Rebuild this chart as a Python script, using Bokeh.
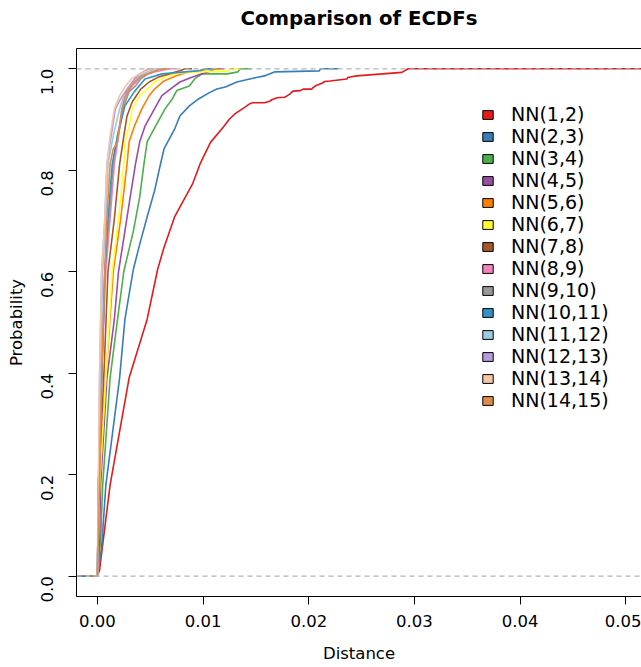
import math
from bokeh.plotting import figure
from bokeh.models import (Range1d, FixedTicker, PrintfTickFormatter, Span, Legend,
                          LegendItem, LinearAxis)
from bokeh.embed import file_html
from bokeh.resources import INLINE

FONT = "DejaVu Sans"

labels = ["NN(1,2)", "NN(2,3)", "NN(3,4)", "NN(4,5)", "NN(5,6)", "NN(6,7)", "NN(7,8)",
          "NN(8,9)", "NN(9,10)", "NN(10,11)", "NN(11,12)", "NN(12,13)", "NN(13,14)", "NN(14,15)"]
colors = ["#E41A1C", "#377EB8", "#4DAF4A", "#984EA3", "#FF7F00", "#FFFF33", "#A65628",
          "#F781BF", "#999999", "#3591C5", "#9ECAE1", "#B49AE0", "#F4C6A6", "#E08A48"]

# distance / cumulative probability
d_1_2 = [0, 0.0002, 0.0012, 0.0030, 0.0047, 0.0057, 0.0063, 0.0073, 0.0090, 0.0097, 0.0107,
         0.0119, 0.0125, 0.0130, 0.0140, 0.0144, 0.0147, 0.0158, 0.0163, 0.0165, 0.0170, 0.0177,
         0.0179, 0.0182, 0.0185, 0.0192, 0.0195, 0.0203, 0.0204, 0.0207, 0.0213, 0.0215, 0.0220,
         0.0236, 0.0237, 0.0245, 0.0270, 0.0288, 0.0294]
p_1_2 = [0, 0.012, 0.180, 0.391, 0.506, 0.605, 0.648, 0.708, 0.773, 0.812, 0.855,
         0.885, 0.901, 0.911, 0.925, 0.931, 0.933, 0.933, 0.936, 0.939, 0.943, 0.944,
         0.946, 0.950, 0.956, 0.957, 0.960, 0.960, 0.963, 0.967, 0.972, 0.975, 0.976,
         0.980, 0.983, 0.986, 0.990, 0.993, 1.0]

d_2_3 = [0, 0.0004, 0.0008, 0.0021, 0.0026, 0.0034, 0.0040, 0.0047, 0.0054, 0.0059, 0.0063,
         0.0073, 0.0078, 0.0087, 0.0096, 0.0106, 0.0113, 0.0121, 0.0132, 0.0144, 0.0158,
         0.0168, 0.0210, 0.0211]
p_2_3 = [0, 0.057, 0.180, 0.391, 0.506, 0.605, 0.654, 0.708, 0.759, 0.806, 0.842,
         0.881, 0.907, 0.927, 0.941, 0.953, 0.960, 0.964, 0.974, 0.980, 0.986,
         0.994, 0.996, 1.0]

d_3_4 = [0, 0.0003, 0.0005, 0.0012, 0.0019, 0.0025, 0.0034, 0.0040, 0.0044, 0.0047, 0.0055,
         0.0064, 0.0071, 0.0075, 0.0087, 0.0092, 0.0099, 0.0123, 0.0133, 0.0135]
p_3_4 = [0, 0.071, 0.180, 0.391, 0.506, 0.601, 0.680, 0.747, 0.812, 0.856, 0.887,
         0.921, 0.941, 0.957, 0.966, 0.980, 0.990, 0.990, 0.994, 1.0]

d_4_5 = [0, 0.0002, 0.0003, 0.0009, 0.0016, 0.0020, 0.0026, 0.0031, 0.0036, 0.0040, 0.0045,
         0.0054, 0.0061, 0.0069, 0.0078, 0.0090, 0.0099, 0.0108, 0.0111]
p_4_5 = [0, 0.071, 0.180, 0.391, 0.506, 0.601, 0.680, 0.747, 0.812, 0.856, 0.887,
         0.921, 0.947, 0.960, 0.974, 0.984, 0.990, 0.996, 1.0]

d_5_6 = [0, 0.0002, 0.0008, 0.0015, 0.0022, 0.0028, 0.0030, 0.0035, 0.0042, 0.0049, 0.0054,
         0.0063, 0.0074, 0.0087, 0.0102, 0.0107]
p_5_6 = [0, 0.180, 0.391, 0.601, 0.704, 0.812, 0.856, 0.887, 0.921, 0.947, 0.960,
         0.976, 0.986, 0.994, 0.998, 1.0]

d_6_7 = [0, 0.0002, 0.0008, 0.0014, 0.0020, 0.0025, 0.0026, 0.0030, 0.0033, 0.0040, 0.0047,
         0.0054, 0.0066, 0.0077, 0.0097, 0.0124, 0.0125]
p_6_7 = [0, 0.180, 0.391, 0.601, 0.704, 0.812, 0.856, 0.887, 0.921, 0.947, 0.960,
         0.974, 0.986, 0.992, 0.994, 0.996, 1.0]

d_7_8 = [0, 0.0001, 0.0006, 0.0010, 0.0016, 0.0021, 0.0025, 0.0028, 0.0033, 0.0041, 0.0049,
         0.0058, 0.0068, 0.0078, 0.0083]
p_7_8 = [0, 0.180, 0.391, 0.601, 0.704, 0.812, 0.868, 0.907, 0.935, 0.960, 0.974,
         0.984, 0.990, 0.996, 1.0]

d_8_9 = [0, 0.0001, 0.0004, 0.0008, 0.0012, 0.0016, 0.0020, 0.0023, 0.0025, 0.0033, 0.0042,
         0.0055, 0.0064, 0.0069]
p_8_9 = [0, 0.180, 0.391, 0.601, 0.704, 0.812, 0.868, 0.907, 0.941, 0.966, 0.986,
         0.994, 0.998, 1.0]

d_9_10 = [0, 0.0001, 0.0004, 0.0007, 0.0011, 0.0015, 0.0019, 0.0024, 0.0030, 0.0036, 0.0041,
          0.0048, 0.0055, 0.0059]
p_9_10 = [0, 0.180, 0.391, 0.601, 0.704, 0.812, 0.868, 0.921, 0.955, 0.966, 0.980,
          0.990, 0.996, 1.0]

d_10_11 = [0, 0.0001, 0.0004, 0.0007, 0.0010, 0.0014, 0.0019, 0.0026, 0.0035, 0.0045, 0.0061,
           0.0083, 0.0097, 0.0102]
p_10_11 = [0, 0.180, 0.391, 0.601, 0.704, 0.812, 0.868, 0.927, 0.955, 0.980, 0.990,
           0.994, 0.996, 1.0]

d_11_12 = [0, 0.0001, 0.0003, 0.0005, 0.0008, 0.0010, 0.0015, 0.0021, 0.0025, 0.0033, 0.0041,
           0.0050, 0.0055]
p_11_12 = [0, 0.180, 0.391, 0.601, 0.704, 0.812, 0.868, 0.921, 0.947, 0.974, 0.988,
           0.996, 1.0]

d_12_13 = [0, 0.0001, 0.0002, 0.0004, 0.0007, 0.0009, 0.0013, 0.0017, 0.0022, 0.0028, 0.0035,
           0.0040, 0.0045, 0.0048]
p_12_13 = [0, 0.180, 0.391, 0.601, 0.704, 0.812, 0.868, 0.921, 0.941, 0.960, 0.980,
           0.990, 0.996, 1.0]

d_13_14 = [0, 0.0001, 0.0002, 0.0004, 0.0007, 0.0009, 0.0012, 0.0016, 0.0021, 0.0026, 0.0032,
           0.0038, 0.0045, 0.0050]
p_13_14 = [0, 0.180, 0.391, 0.601, 0.704, 0.812, 0.868, 0.921, 0.947, 0.964, 0.980,
           0.988, 0.994, 1.0]

d_14_15 = [0, 0.0002, 0.0004, 0.0007, 0.0009, 0.0012, 0.0015, 0.0019, 0.0021, 0.0023, 0.0028,
           0.0035, 0.0042, 0.0052, 0.0059, 0.0064]
p_14_15 = [0, 0.180, 0.391, 0.601, 0.704, 0.812, 0.842, 0.856, 0.887, 0.921, 0.955,
           0.974, 0.986, 0.994, 0.998, 1.0]

distances = [d_1_2, d_2_3, d_3_4, d_4_5, d_5_6, d_6_7, d_7_8, d_8_9, d_9_10, d_10_11,
             d_11_12, d_12_13, d_13_14, d_14_15]
probs = [p_1_2, p_2_3, p_3_4, p_4_5, p_5_6, p_6_7, p_7_8, p_8_9, p_9_10, p_10_11,
         p_11_12, p_12_13, p_13_14, p_14_15]

x_ticks = [0.00, 0.01, 0.02, 0.03, 0.04, 0.05]
y_ticks = [0.0, 0.2, 0.4, 0.6, 0.8, 1.0]
x_lim = (0.0, 0.0495)          # xlim of the first (reference) ECDF
x_lo = x_lim[0] - 0.04 * (x_lim[1] - x_lim[0])
x_hi = x_lim[1] + 0.04 * (x_lim[1] - x_lim[0])

p = figure(width=641, height=667,
           x_range=Range1d(x_lo, x_hi), y_range=Range1d(-0.04, 1.04),
           output_backend="svg", toolbar_location=None,
           min_border_left=76, min_border_right=0, min_border_top=48, min_border_bottom=71,
           x_axis_label="Distance", y_axis_label="Probability")

p.xgrid.visible = False
p.ygrid.visible = False
p.outline_line_color = None
p.background_fill_color = "white"
p.border_fill_color = "white"

# ECDF curves (each extended horizontally at 0 and 1 like R's stepfun plot)
for i, (d, pr, col) in enumerate(zip(distances, probs, colors)):
    if i == 0:
        dr = x_lim[1] - x_lim[0]
    else:
        dr = 0.08 * (max(d) - min(d))
    xs = [min(d) - dr] + d + [max(d) + dr]
    ys = [0] + pr + [1]
    p.line(xs, ys, line_color=col, line_width=1.6)

# dashed reference lines at 0 and 1
for lvl in (0, 1):
    p.add_layout(Span(location=lvl, dimension="width", line_color="#B3B3B3",
                      line_dash="5 4", line_width=1.2))

# axes
for ax in (p.xaxis[0], p.yaxis[0]):
    ax.axis_line_color = "black"
    ax.axis_line_width = 1
    ax.major_tick_out = 8
    ax.major_tick_in = 0
    ax.minor_tick_line_color = None
    ax.major_tick_line_color = "black"
    ax.major_label_text_font = FONT
    ax.major_label_text_font_size = "16.5px"
    ax.major_label_text_color = "black"
    ax.axis_label_text_font = FONT
    ax.axis_label_text_font_size = "16.5px"
    ax.axis_label_text_font_style = "normal"
    ax.axis_label_text_color = "black"

p.xaxis[0].ticker = FixedTicker(ticks=x_ticks)
p.xaxis[0].formatter = PrintfTickFormatter(format="%.2f")
p.xaxis[0].major_label_standoff = 10
p.xaxis[0].axis_label_standoff = 14

p.yaxis[0].ticker = FixedTicker(ticks=y_ticks)
p.yaxis[0].formatter = PrintfTickFormatter(format="%.1f")
p.yaxis[0].major_label_orientation = math.pi / 2
p.yaxis[0].major_label_standoff = 21
p.yaxis[0].axis_label_standoff = 7

# top edge of the box, carrying the chart title
top = LinearAxis(ticker=FixedTicker(ticks=[]), axis_line_color="black",
                 major_label_text_font_size="0px", major_tick_line_color=None,
                 minor_tick_line_color=None, major_tick_out=0, major_label_standoff=0,
                 axis_label="Comparison of ECDFs", axis_label_standoff=19,
                 axis_label_text_font=FONT, axis_label_text_font_size="19.7px",
                 axis_label_text_font_style="bold", axis_label_text_color="black")
p.add_layout(top, "above")

# legend with filled boxes (legend-only renderers, no visible data)
nan = float("nan")
items = []
for lab, col in zip(labels, colors):
    r = p.quad(left=[nan], right=[nan], top=[nan], bottom=[nan], fill_color=col,
               line_color="black", line_width=1)
    items.append(LegendItem(label=lab, renderers=[r]))

legend = Legend(items=items, location=(405, 185), orientation="vertical",
                glyph_width=13, glyph_height=11, label_standoff=17, spacing=0,
                padding=0, margin=0, border_line_color=None, background_fill_alpha=0,
                label_text_font=FONT, label_text_font_size="19px", label_height=21,
                label_text_color="black")
p.add_layout(legend)

open("out.html", "w").write(file_html(p, INLINE))
